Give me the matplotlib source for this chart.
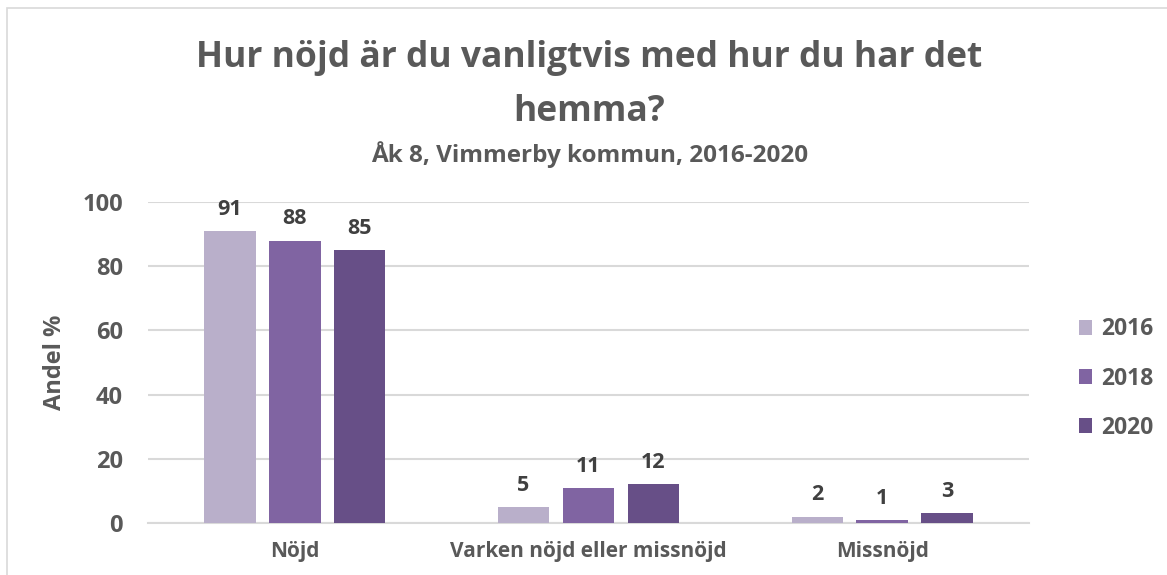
import matplotlib.pyplot as plt
import numpy as np
from matplotlib.patches import Rectangle

plt.rcParams['font.family'] = ['Open Sans', 'DejaVu Sans']

categories = ['Nöjd', 'Varken nöjd eller missnöjd', 'Missnöjd']
years = ['2016', '2018', '2020']
values_2016 = [91, 5, 2]
values_2018 = [88, 11, 1]
values_2020 = [85, 12, 3]
colors = ['#B9AFCA', '#8064A2', '#674F87']

series = [values_2016, values_2018, values_2020]
text_col = '#595959'

fig = plt.figure(figsize=(11.67, 5.75), dpi=100)
ax = fig.add_axes([148 / 1167, 52 / 575, 881 / 1167, 321 / 575])

x = np.arange(len(categories))
width = 0.175
step = 0.221
for i, (vals, year, col) in enumerate(zip(series, years, colors)):
    pos = x + (i - 1) * step
    bars = ax.bar(pos, vals, width, color=col, label=year, zorder=3)
    for b, v in zip(bars, vals):
        ax.annotate(str(v), (b.get_x() + b.get_width() / 2, v),
                    xytext=(0, 8), textcoords='offset points',
                    ha='center', va='bottom', fontsize=15.5,
                    fontweight='bold', color='#404040')

ax.set_xlim(-0.5, 2.5)
ax.set_ylim(0, 100)
ax.set_yticks(range(0, 101, 20))
ax.set_xticks(x)
ax.set_xticklabels(categories)
ax.tick_params(axis='y', length=0, labelsize=17, labelcolor=text_col, pad=18)
ax.tick_params(axis='x', length=0, labelsize=15, labelcolor=text_col, pad=13)
for lab in ax.get_xticklabels() + ax.get_yticklabels():
    lab.set_fontweight('bold')
ax.grid(axis='y', color='#D9D9D9', linewidth=1.5, zorder=0)
for s in ['top', 'right', 'left']:
    ax.spines[s].set_visible(False)
ax.spines['bottom'].set_color('#D9D9D9')
ax.spines['bottom'].set_linewidth(1.5)
ax.set_ylabel('Andel %', fontsize=17, fontweight='bold', color=text_col, labelpad=11)

fig.text(0.505, 1 - 85 / 575, 'Hur nöjd är du vanligtvis med hur du har det\nhemma?',
         ha='center', va='center', fontsize=25.5, fontweight='bold',
         color=text_col, linespacing=1.7)
fig.text(0.505, 1 - 155 / 575, 'Åk 8, Vimmerby kommun, 2016-2020', ha='center', va='center',
         fontsize=17.5, fontweight='bold', color=text_col)

leg = ax.legend(loc='center left', bbox_to_anchor=(1.033, 0.45), frameon=False,
                fontsize=16.5, handlelength=0.6, handleheight=0.6,
                handletextpad=0.4, labelspacing=1.1)
for t in leg.get_texts():
    t.set_fontweight('bold')
    t.set_color(text_col)

fig.patches.append(Rectangle((7 / 1167, -0.1), 1.2, 1 - 8 / 575 + 0.1,
                             transform=fig.transFigure, fill=False,
                             edgecolor='#D9D9D9', linewidth=1.2))

fig.savefig('out.png', dpi=100)
